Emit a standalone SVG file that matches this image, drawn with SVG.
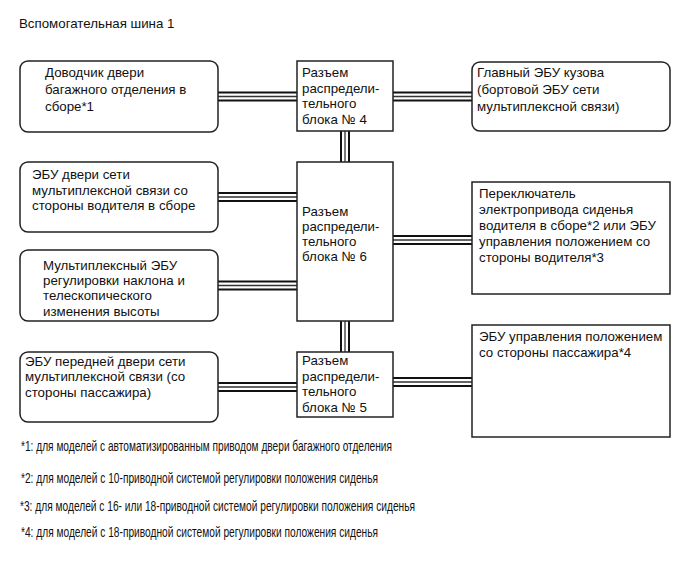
<svg xmlns="http://www.w3.org/2000/svg" width="690" height="562" viewBox="0 0 690 562">
<style>
text{font-family:"Liberation Sans",Arial,sans-serif;font-size:13.3px;fill:#111}
.fn{font-family:"Liberation Sans Narrow","Liberation Sans",Arial,sans-serif;font-size:14px}
.box{fill:#fff;stroke:#222;stroke-width:1.5}
.o{stroke:#111;stroke-width:10;fill:none}
.i{stroke:#fff;stroke-width:6;fill:none}
.c{stroke:#333;stroke-width:1.3;fill:none}
</style>
<rect width="690" height="562" fill="#fff"/>
<text x="19" y="28">Вспомогательная шина 1</text>
<g id="connectors">
<path class="o" d="M218 96.5H297M393 96.5H472M345 131V162M218 197H297M218 285.5H297M393 240H472M345 321V352M218 387H297M393 382H472"/>
<path class="i" d="M218 96.5H297M393 96.5H472M345 131V162M218 197H297M218 285.5H297M393 240H472M345 321V352M218 387H297M393 382H472"/>
<path class="c" d="M218 96.5H297M393 96.5H472M345 131V162M218 197H297M218 285.5H297M393 240H472M345 321V352M218 387H297M393 382H472"/>
</g>
<g id="n1"><rect class="box" x="20" y="61" width="198" height="71" rx="8"/>
<text x="45" y="77">Доводчик двери</text><text x="45" y="94">багажного отделения в</text><text x="45" y="111">сборе*1</text></g>
<g id="j4"><rect class="box" x="297" y="61" width="96" height="70"/>
<text x="302" y="77">Разъем</text><text x="302" y="93">распредели-</text><text x="302" y="108">тельного</text><text x="302" y="124">блока № 4</text></g>
<g id="n_main"><rect class="box" x="472" y="62" width="198" height="69" rx="8"/>
<text x="477" y="77">Главный ЭБУ кузова</text><text x="477" y="94">(бортовой ЭБУ сети</text><text x="477" y="111">мультиплексной связи)</text></g>
<g id="n2"><rect class="box" x="20" y="162" width="198" height="70" rx="8"/>
<text x="32" y="179">ЭБУ двери сети</text><text x="32" y="195">мультиплексной связи со</text><text x="32" y="210">стороны водителя в сборе</text></g>
<g id="j6"><rect class="box" x="297" y="162" width="96" height="159"/>
<text x="302" y="216">Разъем</text><text x="302" y="231">распредели-</text><text x="302" y="246">тельного</text><text x="302" y="261">блока № 6</text></g>
<g id="n3"><rect class="box" x="20" y="250" width="198" height="71" rx="8"/>
<text x="43" y="270">Мультиплексный ЭБУ</text><text x="43" y="285">регулировки наклона и</text><text x="43" y="300">телескопического</text><text x="43" y="316">изменения высоты</text></g>
<g id="n_switch"><rect class="box" x="472" y="182" width="198" height="112"/>
<text x="479" y="198">Переключатель</text><text x="479" y="214">электропривода сиденья</text><text x="479" y="230">водителя в сборе*2 или ЭБУ</text><text x="479" y="246">управления положением со</text><text x="479" y="262">стороны водителя*3</text></g>
<g id="n4"><rect class="box" x="20" y="352" width="198" height="70" rx="8"/>
<text x="25" y="366">ЭБУ передней двери сети</text><text x="25" y="381">мультиплексной связи (со</text><text x="25" y="397">стороны пассажира)</text></g>
<g id="j5"><rect class="box" x="297" y="352" width="96" height="65"/>
<text x="302" y="365">Разъем</text><text x="302" y="381">распредели-</text><text x="302" y="396">тельного</text><text x="302" y="412">блока № 5</text></g>
<g id="n_pass"><rect class="box" x="472" y="325" width="198" height="112"/>
<text x="479" y="341">ЭБУ управления положением</text><text x="479" y="357">со стороны пассажира*4</text></g>
<g id="notes">
<text class="fn" x="21" y="451" textLength="371" lengthAdjust="spacingAndGlyphs">*1: для моделей с автоматизированным приводом двери багажного отделения</text>
<text class="fn" x="21" y="483" textLength="357" lengthAdjust="spacingAndGlyphs">*2: для моделей с 10-приводной системой регулировки положения сиденья</text>
<text class="fn" x="20" y="511" textLength="395" lengthAdjust="spacingAndGlyphs">*3: для моделей с 16- или 18-приводной системой регулировки положения сиденья</text>
<text class="fn" x="21" y="537" textLength="357" lengthAdjust="spacingAndGlyphs">*4: для моделей с 18-приводной системой регулировки положения сиденья</text>
</g>
</svg>
